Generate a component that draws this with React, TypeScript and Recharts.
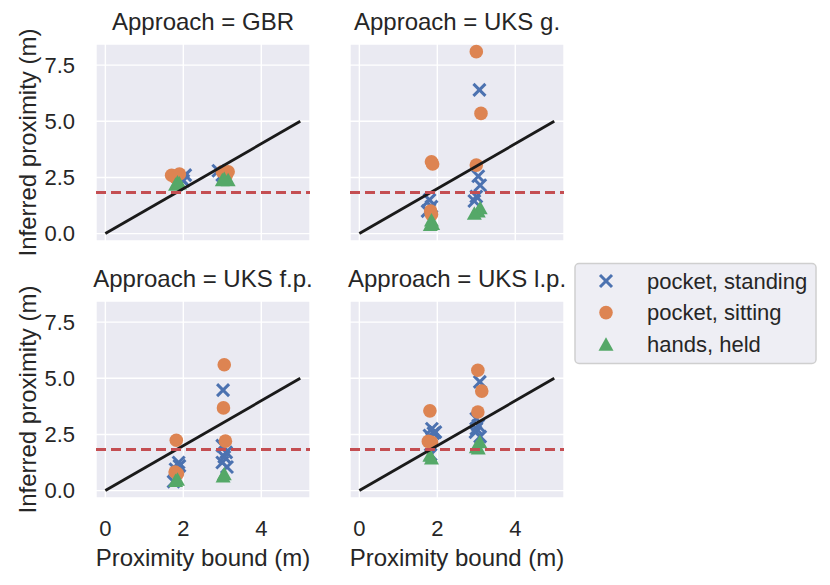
import React from "react";
import { CartesianGrid, Scatter, ScatterChart, XAxis, YAxis } from "recharts";

// seaborn "deep" palette
const BLUE = "#4C72B0";
const ORANGE = "#DD8452";
const GREEN = "#55A868";
const RED = "#C44E52";
const INK = "#262626";
const FONT = '"Liberation Sans", Arial, Helvetica, sans-serif';

const approaches = ["GBR", "UKS g.", "UKS f.p.", "UKS l.p."];
const seriesNames = ["pocket, standing", "pocket, sitting", "hands, held"];
const xTicks = [0, 2, 4];
const yTicks = [0, 2.5, 5, 7.5];
const safeDistance = 1.83;
const identityLine = [[0, 0], [5, 5]];

// [bound, inferred] pairs
const gbrStanding = [[1.95, 2.45], [2.05, 2.6], [2.0, 2.35], [2.9, 2.8], [3.0, 2.6], [3.1, 2.5]];
const gbrSitting = [[1.7, 2.6], [1.9, 2.65], [1.8, 2.5], [3.0, 2.75], [3.15, 2.75], [3.1, 2.6]];
const gbrHeld = [[1.85, 2.3], [1.8, 2.2], [1.9, 2.25], [3.0, 2.4], [3.15, 2.4], [3.05, 2.45]];

const gStanding = [[3.08, 6.4], [3.05, 2.55], [3.1, 2.15], [3.0, 1.65], [2.95, 1.45], [1.8, 1.5], [1.85, 1.2], [1.75, 1.0]];
const gSitting = [[3.0, 8.1], [3.12, 5.35], [1.85, 3.2], [1.88, 3.1], [3.0, 3.05], [1.83, 1.0], [1.85, 0.85]];
const gHeld = [[3.05, 1.0], [3.1, 1.15], [2.95, 0.9], [1.85, 0.6], [1.88, 0.45], [1.82, 0.4]];

const fpStanding = [[3.02, 4.47], [3.0, 2.0], [3.1, 1.7], [3.0, 1.25], [3.12, 1.05], [3.05, 1.5], [1.88, 1.25], [1.8, 0.95], [1.75, 0.4], [1.9, 1.1]];
const fpSitting = [[3.05, 5.6], [3.03, 3.68], [3.08, 2.2], [1.82, 2.24], [1.79, 0.83], [1.85, 0.75]];
const fpHeld = [[1.8, 0.45], [1.85, 0.5], [3.05, 0.75], [3.02, 0.65]];

const lpStanding = [[3.09, 4.84], [3.0, 3.2], [3.05, 2.9], [2.98, 2.6], [3.1, 2.4], [3.0, 2.75], [1.86, 2.75], [1.9, 2.55], [1.8, 2.45], [1.83, 1.6], [1.95, 2.6]];
const lpSitting = [[3.04, 5.36], [3.14, 4.43], [3.04, 3.5], [1.81, 3.55], [1.77, 2.19], [1.85, 2.15]];
const lpHeld = [[3.09, 2.17], [3.05, 1.9], [3.0, 1.95], [1.81, 1.57], [1.85, 1.45]];

const toPts = (rows: number[][]) => rows.map(([x, y]) => ({ x, y }));

const PW = 214;
const PH = 197;
const PAD = 14; // room under the plot so the lowest y tick label is not clipped
const X_DOMAIN: [number, number] = [-0.24, 5.25];
const Y_DOMAIN: [number, number] = [-0.33, 8.44];

const Cross = (p: any) => (
  <g>
    <line x1={p.cx - 6} y1={p.cy - 6} x2={p.cx + 6} y2={p.cy + 6} stroke={BLUE} strokeWidth={3} />
    <line x1={p.cx - 6} y1={p.cy + 6} x2={p.cx + 6} y2={p.cy - 6} stroke={BLUE} strokeWidth={3} />
  </g>
);
const Dot = (p: any) => <circle cx={p.cx} cy={p.cy} r={6.8} fill={ORANGE} />;
const Tri = (p: any) => (
  <polygon
    points={`${p.cx},${p.cy - 7} ${p.cx - 7.5},${p.cy + 6.5} ${p.cx + 7.5},${p.cy + 6.5}`}
    fill={GREEN}
  />
);
const NoMark = () => <g />;
const NoTick = () => <g />;

interface PanelProps {
  standing: number[][];
  sitting: number[][];
  held: number[][];
  left: number;
  top: number;
  showX: boolean;
  showY: boolean;
}

function Panel({ standing, sitting, held, left, top, showX, showY }: PanelProps) {
  const yW = showY ? 60 : 0;
  const xH = showX ? 60 : 0;
  const bottom = showX ? 0 : PAD;
  const tickStyle = { fill: INK, fontSize: 22, fontFamily: FONT };
  return (
    <div style={{ position: "absolute", left: left - yW, top }}>
      <ScatterChart
        width={PW + yW}
        height={PH + xH + bottom}
        margin={{ top: 0, right: 0, bottom, left: 0 }}
      >
        <CartesianGrid fill="#EAEAF2" stroke="#fff" strokeWidth={1.4} />
        <XAxis
          type="number"
          dataKey="x"
          domain={X_DOMAIN}
          ticks={xTicks}
          interval={0}
          allowDataOverflow
          axisLine={false}
          tickLine={false}
          tickSize={0}
          tickMargin={22}
          height={xH}
          tick={showX ? tickStyle : NoTick}
        />
        <YAxis
          type="number"
          dataKey="y"
          domain={Y_DOMAIN}
          ticks={yTicks}
          interval={0}
          allowDataOverflow
          axisLine={false}
          tickLine={false}
          tickSize={0}
          tickMargin={21}
          width={yW}
          tickFormatter={(v: number) => v.toFixed(1)}
          tick={showY ? tickStyle : NoTick}
        />
        <Scatter data={toPts(standing)} shape={Cross} isAnimationActive={false} />
        <Scatter data={toPts(sitting)} shape={Dot} isAnimationActive={false} />
        <Scatter data={toPts(held)} shape={Tri} isAnimationActive={false} />
        <Scatter
          data={toPts(identityLine)}
          line={{ stroke: "#1a1a1a", strokeWidth: 2.8 }}
          shape={NoMark}
          isAnimationActive={false}
        />
        <Scatter
          data={toPts([[X_DOMAIN[0], safeDistance], [X_DOMAIN[1], safeDistance]])}
          line={{ stroke: RED, strokeWidth: 3, strokeDasharray: "10 5" }}
          shape={NoMark}
          isAnimationActive={false}
        />
      </ScatterChart>
    </div>
  );
}

export default function App() {
  const panels = [
    { standing: gbrStanding, sitting: gbrSitting, held: gbrHeld },
    { standing: gStanding, sitting: gSitting, held: gHeld },
    { standing: fpStanding, sitting: fpSitting, held: fpHeld },
    { standing: lpStanding, sitting: lpSitting, held: lpHeld },
  ];
  const lefts = [96, 350];
  const tops = [44, 301];
  const markers = [Cross, Dot, Tri];

  return (
    <div
      style={{
        position: "absolute",
        left: 0,
        top: 0,
        width: 830,
        height: 585,
        background: "#fff",
        fontFamily: FONT,
      }}
    >
      {panels.map((p, i) => (
        <Panel
          key={approaches[i]}
          {...p}
          left={lefts[i % 2]}
          top={tops[Math.floor(i / 2)]}
          showX={i >= 2}
          showY={i % 2 === 0}
        />
      ))}

      <svg
        width={830}
        height={585}
        style={{ position: "absolute", left: 0, top: 0, pointerEvents: "none" }}
      >
        {approaches.map((a, i) => (
          <text
            key={a}
            x={lefts[i % 2] + PW / 2}
            y={tops[Math.floor(i / 2)] - 14}
            textAnchor="middle"
            fontSize={24}
            fill={INK}
            fontFamily={FONT}
          >
            Approach = {a}
          </text>
        ))}
        {tops.map((t) => (
          <text
            key={t}
            transform={`translate(27, ${t + PH / 2}) rotate(-90)`}
            textAnchor="middle"
            dominantBaseline="central"
            fontSize={24}
            fill={INK}
            fontFamily={FONT}
          >
            Inferred proximity (m)
          </text>
        ))}
        {lefts.map((l) => (
          <text
            key={l}
            x={l + PW / 2}
            y={566}
            textAnchor="middle"
            fontSize={24}
            fill={INK}
            fontFamily={FONT}
          >
            Proximity bound (m)
          </text>
        ))}

        <rect x={575} y={263.5} width={241} height={100} rx={4} fill="#EEEEF4" stroke="#cfcfcf" strokeWidth={1.5} />
        {seriesNames.map((name, i) => {
          const cy = 281 + i * 31.6;
          const M = markers[i];
          return (
            <g key={name}>
              <M cx={606} cy={cy} />
              <text x={647} y={cy} dominantBaseline="central" fontSize={22} fill={INK} fontFamily={FONT}>
                {name}
              </text>
            </g>
          );
        })}
      </svg>
    </div>
  );
}
